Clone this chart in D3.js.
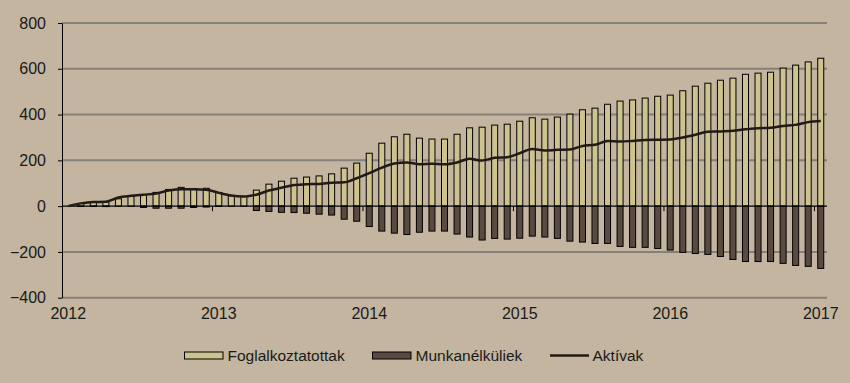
<!DOCTYPE html>
<html>
<head>
<meta charset="utf-8">
<script src="https://cdn.jsdelivr.net/npm/d3@7/dist/d3.min.js"></script>
<style>
  html, body { margin: 0; padding: 0; background: #C3B59F; }
  svg { display: block; font-family: "Liberation Sans", Arial, sans-serif; }
</style>
</head>
<body>
<svg id="chart" width="850" height="383"></svg>
<script>
// ---- Data (monthly, Jan 2012 – Jan 2017, change since Jan 2012, thousand persons) ----
const months = d3.range(61).map(i => `${2012 + Math.floor(i / 12)}-${String(i % 12 + 1).padStart(2, "0")}`);
const employed = [0, 12, 17, 18, 32, 42, 51, 60, 73, 82, 77, 78,
  60, 45, 42, 70, 96, 109, 122, 127, 132, 141, 166, 188,
  231, 275, 303, 314, 297, 293, 293, 314, 342, 345, 354, 358,
  371, 386, 380, 389, 402, 421, 428, 445, 459, 464, 472, 480,
  485, 504, 524, 537, 550, 559, 576, 581, 585, 603, 616, 630,
  646];
const unemployed = [0, -1, -1, -2, 0, 0, -6, -9, -9, -9, -6, -4,
  -1, 0, 0, -19, -23, -27, -28, -31, -35, -39, -57, -66,
  -89, -109, -118, -124, -114, -109, -109, -122, -135, -148, -141, -144,
  -140, -131, -135, -141, -153, -157, -163, -163, -176, -180, -180, -185,
  -192, -202, -207, -211, -220, -233, -242, -242, -242, -250, -259, -263,
  -272];
const active = [0, 12, 18, 19, 38, 45, 50, 55, 68, 74, 74, 72,
  58, 46, 42, 50, 68, 80, 92, 96, 97, 102, 104, 122,
  144, 168, 186, 191, 183, 185, 183, 191, 207, 199, 211, 214,
  231, 250, 243, 246, 247, 263, 268, 284, 282, 285, 289, 290,
  291, 300, 312, 325, 326, 329, 336, 340, 342, 350, 355, 367,
  372];
const yTicks = [-400, -200, 0, 200, 400, 600, 800];
const yearTickIdx = [0, 12, 24, 36, 48, 60];
const yearLabels = ["2012", "2013", "2014", "2015", "2016", "2017"];
const seriesNames = ["Foglalkoztatottak", "Munkanélküliek", "Aktívak"];

// ---- Styles ----
const C = {
  emp: "#CCC38F", unemp: "#5A4B42", line: "#211A15",
  grid: "#86807A", text: "#1A1A1A"
};

const svg = d3.select("#chart");
const L = 62, R = 827, T = 23, B = 297.7;

const x = d3.scaleBand().domain(d3.range(months.length)).range([L, R])
  .paddingInner(0.44).paddingOuter(0.22);
const y = d3.scaleLinear().domain([-400, 800]).range([B, T]);
const step = x.step(), bw = x.bandwidth();

// gridlines
svg.append("g").selectAll("line").data(yTicks.filter(v => v !== 0)).join("line")
  .attr("x1", L).attr("x2", R).attr("y1", d => y(d)).attr("y2", d => y(d))
  .attr("stroke", C.grid).attr("stroke-width", 2);

// bars
const idx = d3.range(months.length);
svg.append("g").selectAll("rect").data(idx).join("rect")
  .attr("x", i => x(i) + 0.5).attr("width", bw - 1)
  .attr("y", i => y(Math.max(0, employed[i])))
  .attr("height", i => Math.abs(y(employed[i]) - y(0)))
  .attr("fill", C.emp).attr("stroke", "#000").attr("stroke-width", 1);
svg.append("g").selectAll("rect").data(idx).join("rect")
  .attr("x", i => x(i) + 0.5).attr("width", bw - 1)
  .attr("y", i => y(Math.max(0, unemployed[i])))
  .attr("height", i => Math.abs(y(unemployed[i]) - y(0)))
  .attr("fill", C.unemp).attr("stroke", "#000").attr("stroke-width", 1);

// zero line + year tick marks
svg.append("line").attr("x1", L).attr("x2", R).attr("y1", y(0)).attr("y2", y(0))
  .attr("stroke", "#000").attr("stroke-width", 1.2);
svg.append("g").selectAll("line").data(yearTickIdx.slice(1)).join("line")
  .attr("x1", i => x(i) - step * 0.22).attr("x2", i => x(i) - step * 0.22)
  .attr("y1", y(0)).attr("y2", y(0) + 5)
  .attr("stroke", "#000").attr("stroke-width", 1);

// line
const line = d3.line().x((d, i) => x(i) + bw / 2).y(d => y(d)).curve(d3.curveMonotoneX);
svg.append("path").datum(active).attr("d", line)
  .attr("fill", "none").attr("stroke", C.line).attr("stroke-width", 2.5);

// y axis
const yAxis = d3.axisLeft(y).tickValues(yTicks).tickSizeInner(4).tickSizeOuter(0).tickPadding(12);
const gy = svg.append("g").attr("transform", `translate(${L},0)`).call(yAxis);
gy.select(".domain").attr("stroke", "#000");
gy.selectAll(".tick line").attr("stroke", "#000");
gy.selectAll("text").attr("font-size", 16).attr("fill", C.text)
  .attr("font-family", "Liberation Sans, Arial, sans-serif");

// x labels
const xAxis = d3.axisBottom(x).tickValues(yearTickIdx)
  .tickFormat((d, i) => yearLabels[i]).tickSize(0).tickPadding(0);
const gx = svg.append("g").attr("transform", `translate(0,${B + 10})`).call(xAxis);
gx.select(".domain").remove();
gx.selectAll("text").attr("font-size", 16).attr("fill", C.text).attr("dy", "0.71em")
  .attr("font-family", "Liberation Sans, Arial, sans-serif");

// legend
const lg = svg.append("g").attr("font-size", 15.5).attr("fill", C.text);
const ly = 355.5;
lg.append("rect").attr("x", 184.5).attr("y", ly - 3.5).attr("width", 38.5).attr("height", 7)
  .attr("fill", C.emp).attr("stroke", "#000");
lg.append("text").attr("x", 227.5).attr("y", ly).attr("dy", "0.35em").text(seriesNames[0]);
lg.append("rect").attr("x", 372.5).attr("y", ly - 3.5).attr("width", 38.5).attr("height", 7)
  .attr("fill", C.unemp).attr("stroke", "#000");
lg.append("text").attr("x", 415.5).attr("y", ly).attr("dy", "0.35em").text(seriesNames[1]);
lg.append("line").attr("x1", 550).attr("x2", 589).attr("y1", ly).attr("y2", ly)
  .attr("stroke", C.line).attr("stroke-width", 2.5);
lg.append("text").attr("x", 592.5).attr("y", ly).attr("dy", "0.35em").text(seriesNames[2]);
</script>
</body>
</html>
